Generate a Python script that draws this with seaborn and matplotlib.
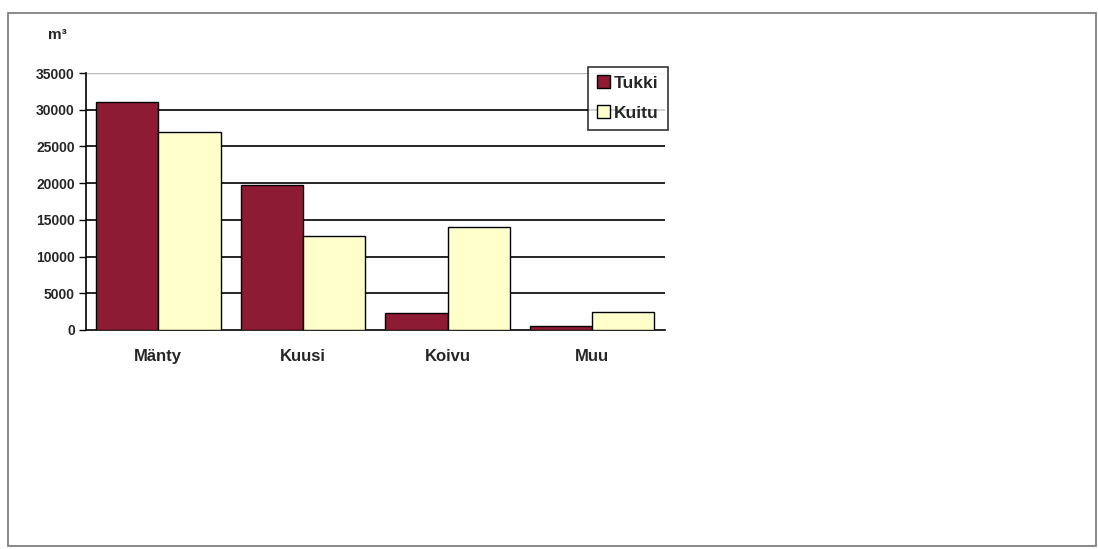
import matplotlib
matplotlib.use("Agg")
import matplotlib.pyplot as plt
from matplotlib.patches import Rectangle
import seaborn as sns
import pandas as pd

# Puutavaralajit
lajit = ["Mänty", "Kuusi", "Koivu", "Muu"]
tukki = [31000, 19800, 2300, 500]
kuitu = [27000, 12800, 14000, 2400]
sarjat = ["Tukki", "Kuitu"]
varit = ["#8E1B34", "#FFFFCC"]
y_ticks = [0, 5000, 10000, 15000, 20000, 25000, 30000, 35000]

df = pd.DataFrame({
    "laji": lajit * 2,
    "sarja": [sarjat[0]] * len(lajit) + [sarjat[1]] * len(lajit),
    "m3": tukki + kuitu,
})

sns.set_style("white")
plt.rcParams["font.family"] = ["Liberation Sans", "DejaVu Sans"]
plt.rcParams["font.weight"] = "bold"

fig = plt.figure(figsize=(10.98, 5.49), dpi=100)
ax = fig.add_axes([0.0783, 0.399, 0.527, 0.468])

sns.barplot(data=df, x="laji", y="m3", hue="sarja", hue_order=sarjat,
            palette=varit, saturation=1, width=0.86, edgecolor="black",
            linewidth=1.0, ax=ax, zorder=3, legend=True)

ax.set_xlim(-0.5, 3.5)
ax.set_ylim(0, 35000)
ax.set_yticks(y_ticks)
ax.set_yticklabels([str(v) for v in y_ticks], fontsize=10, fontweight="bold")
ax.set_xticks(range(len(lajit)))
ax.set_xticklabels(lajit, fontsize=12, fontweight="bold")
ax.set_xticks([-0.5, 0.5, 1.5, 2.5, 3.5], minor=True)
ax.tick_params(axis="x", which="major", length=0, pad=14)
ax.tick_params(axis="x", which="minor", length=4, width=1, color="black", direction="out")
ax.tick_params(axis="y", length=5, width=1, color="black", direction="out", pad=3, left=True)
ax.set_xlabel("")
ax.set_ylabel("")

# vaakaviivat
for v in y_ticks[1:-1]:
    ax.axhline(v, color="black", linewidth=1.2, zorder=1)
ax.axhline(35000, color="#BBBBBB", linewidth=1.0, zorder=1)

for s in ["top", "right"]:
    ax.spines[s].set_visible(False)
ax.spines["left"].set_color("black")
ax.spines["bottom"].set_color("black")
ax.spines["left"].set_linewidth(1.2)
ax.spines["bottom"].set_linewidth(1.2)

leg = ax.legend(loc="upper right", bbox_to_anchor=(1.005, 1.025), frameon=True,
                fancybox=False, edgecolor="black", fontsize=12.5,
                handlelength=0.75, handleheight=0.75, handletextpad=0.25,
                borderpad=0.5, labelspacing=0.85, borderaxespad=0)
leg.get_frame().set_linewidth(1.2)
for t in leg.get_texts():
    t.set_fontweight("bold")
for h in leg.legend_handles:
    h.set_edgecolor("black")

fig.text(0.044, 0.937, "m³", fontsize=11, fontweight="bold", ha="left", va="center")

# kehys
fig.patches.append(Rectangle((8 / 1098, 3 / 549), 1088 / 1098, 533 / 549,
                             transform=fig.transFigure, fill=False,
                             edgecolor="#777777", linewidth=1.2))

fig.savefig("out.png", dpi=100)
